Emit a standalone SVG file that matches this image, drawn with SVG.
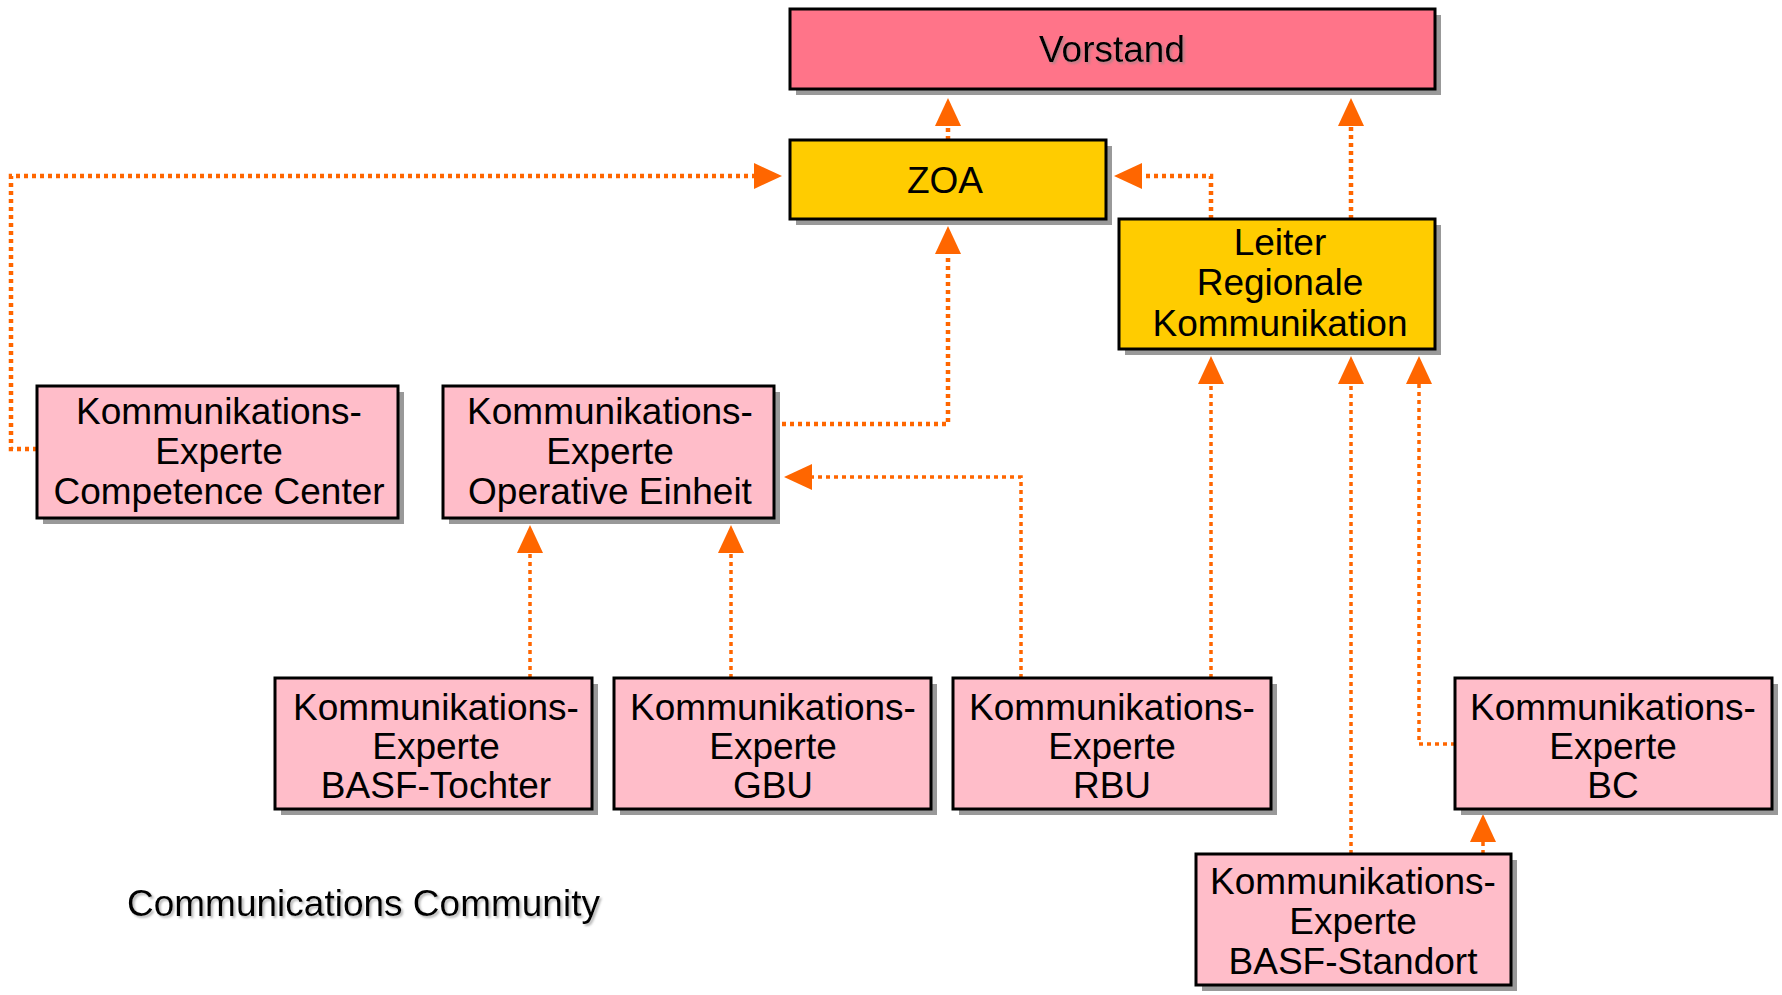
<svg xmlns="http://www.w3.org/2000/svg" width="1782" height="995" viewBox="0 0 1782 995">
<style>
.shadow{fill:#999999}
.box{stroke:#000000;stroke-width:3}
.red{fill:#FF7489}
.yellow{fill:#FFCC00}
.pink{fill:#FFBDC9}
text{font-family:"Liberation Sans",Arial,sans-serif;font-size:37px;fill:#000000;text-anchor:middle}
.conn{fill:none;stroke:#FF6600;stroke-dasharray:4 4;marker-end:url(#arr)}
.thick{stroke-width:4.5}
.thin{stroke-width:3.5}
</style>
<defs>
<marker id="arr" markerUnits="userSpaceOnUse" markerWidth="30" markerHeight="28" refX="0" refY="13" orient="auto">
<path d="M0,0 L28,13 L0,26 Z" fill="#FF6600"/>
</marker>
<filter id="ts" x="-5%" y="-20%" width="110%" height="150%">
<feDropShadow dx="2" dy="2" stdDeviation="0.8" flood-color="#888888" flood-opacity="0.6"/>
</filter>
</defs>

<g id="connectors">
<path class="conn thick" d="M948,140 V126"/>
<path class="conn thick" d="M1351,219 V126"/>
<path class="conn thick" d="M1211,219 V176 H1142"/>
<path class="conn thick" d="M37,449 H11 V176 H754"/>
<path class="conn thick" d="M774,424 H948 V254"/>
<path class="conn thin" d="M1021,678 V477 H812"/>
<path class="conn thin" d="M530,678 V553"/>
<path class="conn thin" d="M731,678 V553"/>
<path class="conn thin" d="M1211,678 V384"/>
<path class="conn thin" d="M1351,854 V384"/>
<path class="conn thin" d="M1455,744 H1419 V384"/>
<path class="conn thin" d="M1483,854 V842"/>
</g>

<g id="vorstand">
<rect class="shadow" x="796" y="15" width="645" height="80"/>
<rect class="box red" x="790" y="9" width="645" height="80"/>
<text x="1112" y="62" filter="url(#ts)">Vorstand</text>
</g>

<g id="zoa">
<rect class="shadow" x="796" y="146" width="316" height="79"/>
<rect class="box yellow" x="790" y="140" width="316" height="79"/>
<text x="945" y="193">ZOA</text>
</g>

<g id="leiter">
<rect class="shadow" x="1125" y="225" width="316" height="130"/>
<rect class="box yellow" x="1119" y="219" width="316" height="130"/>
<text x="1280" y="255">Leiter</text>
<text x="1280" y="295">Regionale</text>
<text x="1280" y="336">Kommunikation</text>
</g>

<g id="ke-cc">
<rect class="shadow" x="43" y="392" width="361" height="132"/>
<rect class="box pink" x="37" y="386" width="361" height="132"/>
<text x="219" y="424">Kommunikations-</text>
<text x="219" y="464">Experte</text>
<text x="219" y="504">Competence Center</text>
</g>

<g id="ke-oe">
<rect class="shadow" x="449" y="392" width="331" height="132"/>
<rect class="box pink" x="443" y="386" width="331" height="132"/>
<text x="610" y="424">Kommunikations-</text>
<text x="610" y="464">Experte</text>
<text x="610" y="504">Operative Einheit</text>
</g>

<g id="ke-tochter">
<rect class="shadow" x="281" y="684" width="317" height="131"/>
<rect class="box pink" x="275" y="678" width="317" height="131"/>
<text x="436" y="720">Kommunikations-</text>
<text x="436" y="759">Experte</text>
<text x="436" y="798">BASF-Tochter</text>
</g>

<g id="ke-gbu">
<rect class="shadow" x="620" y="684" width="317" height="131"/>
<rect class="box pink" x="614" y="678" width="317" height="131"/>
<text x="773" y="720">Kommunikations-</text>
<text x="773" y="759">Experte</text>
<text x="773" y="798">GBU</text>
</g>

<g id="ke-rbu">
<rect class="shadow" x="959" y="684" width="318" height="131"/>
<rect class="box pink" x="953" y="678" width="318" height="131"/>
<text x="1112" y="720">Kommunikations-</text>
<text x="1112" y="759">Experte</text>
<text x="1112" y="798">RBU</text>
</g>

<g id="ke-bc">
<rect class="shadow" x="1461" y="684" width="317" height="131"/>
<rect class="box pink" x="1455" y="678" width="317" height="131"/>
<text x="1613" y="720">Kommunikations-</text>
<text x="1613" y="759">Experte</text>
<text x="1613" y="798">BC</text>
</g>

<g id="ke-standort">
<rect class="shadow" x="1202" y="860" width="315" height="131"/>
<rect class="box pink" x="1196" y="854" width="315" height="131"/>
<text x="1353" y="894">Kommunikations-</text>
<text x="1353" y="934">Experte</text>
<text x="1353" y="974">BASF-Standort</text>
</g>

<g id="caption">
<text x="127" y="916" style="text-anchor:start" filter="url(#ts)">Communications Community</text>
</g>
</svg>
